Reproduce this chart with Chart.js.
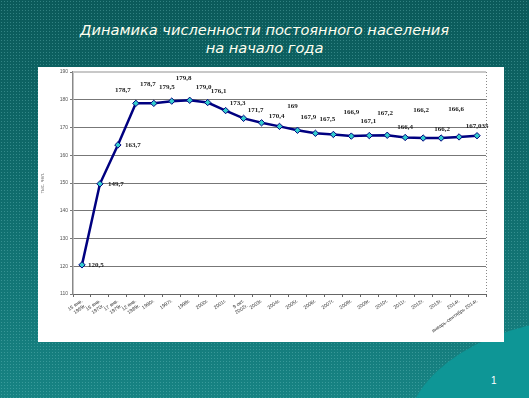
<!DOCTYPE html>
<html><head><meta charset="utf-8">
<script src="https://cdn.jsdelivr.net/npm/chart.js@4.4.1/dist/chart.umd.min.js"></script>
<style>
html,body{margin:0;padding:0;width:529px;height:398px;overflow:hidden;}
body{position:relative;background:linear-gradient(180deg,#0b5a5a 0%,#0f6b6b 45%,#178383 100%);font-family:"Liberation Sans",Arial,sans-serif;}
#dots{position:absolute;left:0;top:0;width:529px;height:398px;background-image:radial-gradient(circle,rgba(120,200,200,0.35) 0.6px,transparent 0.9px);background-size:3px 3px;}
#glow{position:absolute;left:405px;top:318px;width:380px;height:240px;border-radius:50%;background:#0e9696;}
#title{position:absolute;left:0;top:21px;width:529px;text-align:center;color:#fffff0;font-family:"DejaVu Sans",sans-serif;font-weight:200;font-style:italic;font-size:14.6px;line-height:18px;}
#panel{position:absolute;left:38px;top:67px;width:466px;height:275px;background:#fff;}
#page{position:absolute;left:491px;top:375px;color:#fff;font-size:10px;}
</style></head>
<body>
<div id="dots"></div>
<div id="glow"></div>
<div id="title">Динамика численности постоянного населения<br>на начало года</div>
<div id="panel"><canvas id="c" width="466" height="275"></canvas></div>
<div id="page">1</div>
<script>
const categories = [
  ["15 янв.","1959г."], ["15 янв.","1970г."], ["17 янв.","1979г."], ["12 янв.","1989г."],
  "1990г.", "1997г.", "1998г.", "2000г.", "2001г.", ["9 окт.","2002г."],
  "2003г.", "2004г.", "2005г.", "2006г.", "2007г.", "2008г.", "2009г.", "2010г.",
  "2011г.", "2012г.", "2013г.", "2014г.", "январь-сентябрь 2014г."
];
const population = [120.5, 149.7, 163.7, 178.7, 178.7, 179.5, 179.8, 179.0, 176.1, 173.3, 171.7, 170.4, 169, 167.9, 167.5, 166.9, 167.1, 167.2, 166.4, 166.2, 166.2, 166.6, 167.035];
const valueLabels = ["120,5","149,7","163,7","178,7","178,7","179,5","179,8","179,0","176,1","173,3","171,7","170,4","169","167,9","167,5","166,9","167,1","167,2","166,4","166,2","166,2","166,6","167,035"];
const yAxisTitle = "тыс. чел.";

const labelOffsets = [[14,0],[16,0],[15,0],[-13,-13],[-6,-19],[-5,-14],[-6,-22],[-4,-15],[-7,-19],[-6,-15],[-6,-13],[-3,-10],[-5,-24],[-7,-16],[-6,-15],[0,-24],[-1,-14],[-2,-22],[0,-10],[-2,-28],[1,-9],[-3,-28],[0,-10]];

const valueLabelPlugin = {
  id:'valueLabels',
  afterDatasetsDraw(chart){
    const ctx = chart.ctx;
    const meta = chart.getDatasetMeta(0);
    ctx.save();
    ctx.font = 'bold 7px "Liberation Serif", "Times New Roman", serif';
    ctx.fillStyle = '#222';
    ctx.textAlign = 'center';
    ctx.textBaseline = 'middle';
    meta.data.forEach((pt,i)=>{
      const o = labelOffsets[i];
      ctx.fillText(valueLabels[i], pt.x+o[0], pt.y+o[1]);
    });
    ctx.restore();
  }
};
const framePlugin = {
  id:'frame',
  beforeDatasetsDraw(chart){
    const {ctx, chartArea:a} = chart;
    ctx.save();
    ctx.strokeStyle = '#c8c8c8';
    ctx.lineWidth = 2;
    ctx.beginPath(); ctx.moveTo(a.left, a.top); ctx.lineTo(a.right, a.top); ctx.stroke();
    ctx.strokeStyle = '#888';
    ctx.lineWidth = 1;
    ctx.setLineDash([1,2]);
    ctx.beginPath(); ctx.moveTo(a.right+0.5, a.top); ctx.lineTo(a.right+0.5, a.bottom); ctx.stroke();
    ctx.restore();
  }
};

new Chart(document.getElementById('c'), {
  type:'line',
  data:{
    labels: categories,
    datasets:[{
      data: population,
      borderColor:'#000080',
      borderWidth:2.5,
      tension:0,
      pointStyle:'rectRot',
      pointRadius:3.2,
      pointBackgroundColor:'#33cccc',
      pointBorderColor:'#000080',
      pointBorderWidth:1
    }]
  },
  options:{
    responsive:false,
    animation:false,
    layout:{padding:{top:4,right:18,left:0,bottom:0}},
    plugins:{legend:{display:false},tooltip:{enabled:false}},
    scales:{
      x:{
        offset:true,
        afterFit(s){ s.height = 48; },
        grid:{display:true, drawOnChartArea:false, drawTicks:true, tickLength:3, color:'#666', offset:true},
        border:{color:'#666', width:1},
        ticks:{autoSkip:false, minRotation:35, maxRotation:35, padding:1, color:'#333', font:{family:'"Liberation Sans", Arial', size:5}}
      },
      y:{
        min:110, max:190,
        afterFit(s){ s.width = 35; },
        ticks:{stepSize:10, padding:2, color:'#555', font:{family:'"Liberation Sans", Arial', size:5}},
        grid:{color:'#777', borderDash:[1,2], tickLength:3, tickBorderDash:[], tickColor:'#777'},
        border:{color:'#888', width:1.5},
        title:{display:true, text:yAxisTitle, color:'#777', font:{family:'"Liberation Sans", Arial', size:5}, padding:{top:2,bottom:0}}
      }
    }
  },
  plugins:[framePlugin, valueLabelPlugin]
});
</script>
</body></html>
